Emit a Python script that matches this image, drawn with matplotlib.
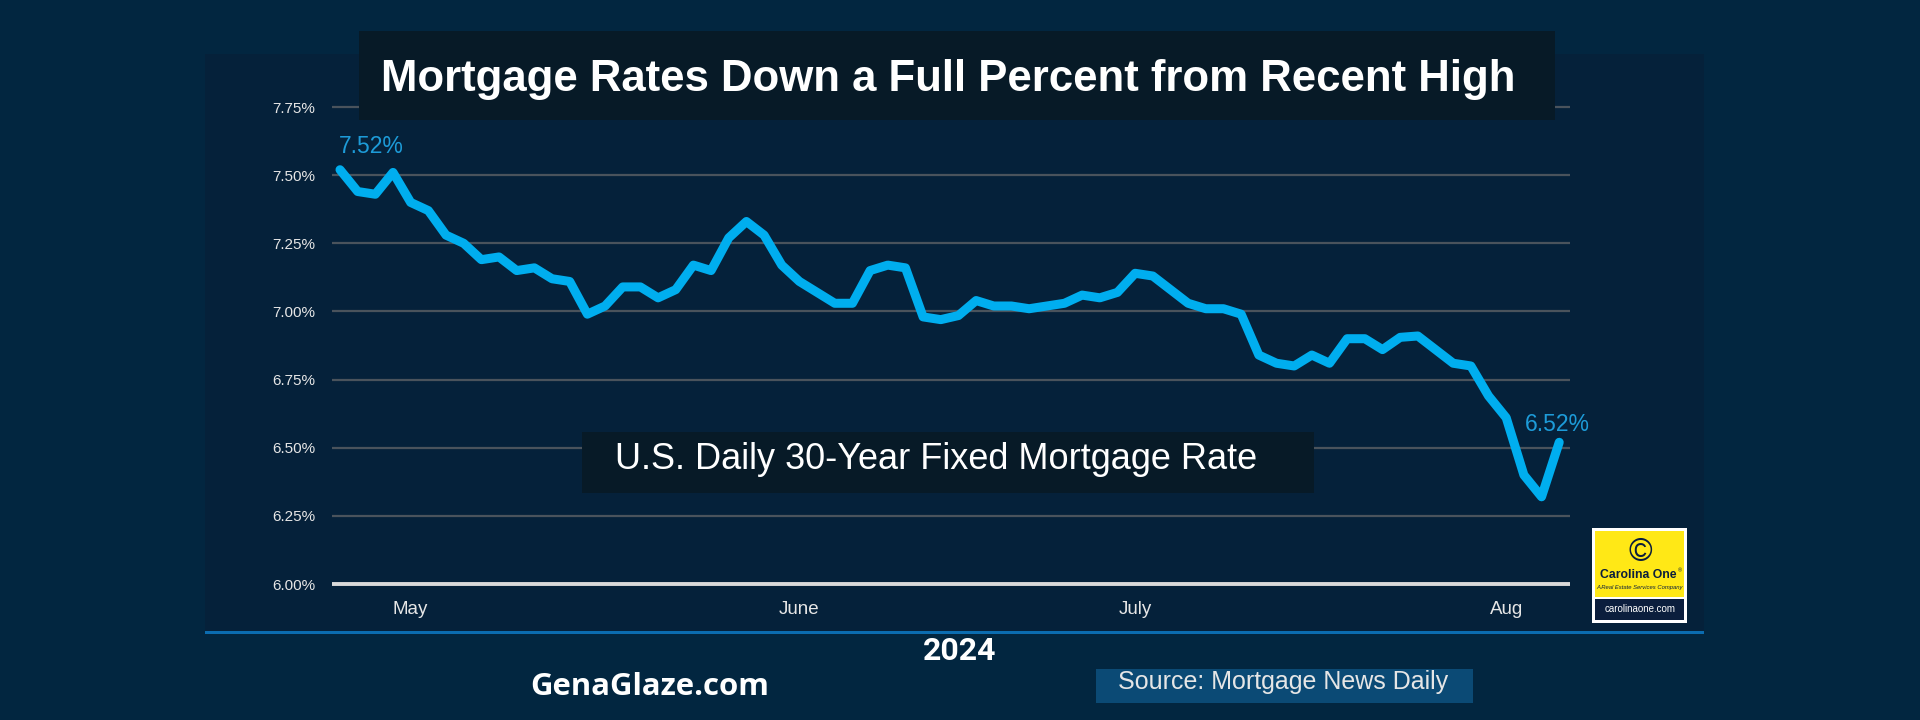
import matplotlib
matplotlib.use("Agg")
import matplotlib.pyplot as plt
from matplotlib.patches import Rectangle

# ---------------- data ----------------
rates = [7.52, 7.44, 7.43, 7.51, 7.40, 7.37, 7.28, 7.25, 7.19, 7.20,
         7.15, 7.16, 7.12, 7.11, 6.99, 7.02, 7.09, 7.09, 7.05, 7.08,
         7.17, 7.15, 7.27, 7.33, 7.28, 7.17, 7.11, 7.07, 7.03, 7.03,
         7.15, 7.17, 7.16, 6.98, 6.97, 6.985, 7.04, 7.02, 7.02, 7.01,
         7.02, 7.03, 7.06, 7.05, 7.07, 7.14, 7.13, 7.08, 7.03, 7.01,
         7.01, 6.99, 6.84, 6.81, 6.80, 6.84, 6.81, 6.90, 6.90, 6.86,
         6.905, 6.91, 6.86, 6.81, 6.80, 6.69, 6.61, 6.40, 6.32, 6.52]
y_ticks = [6.00, 6.25, 6.50, 6.75, 7.00, 7.25, 7.50, 7.75]
y_tick_labels = ["6.00%", "6.25%", "6.50%", "6.75%", "7.00%", "7.25%", "7.50%", "7.75%"]
month_labels = ["May", "June", "July", "Aug"]
month_tick_idx = [4, 26, 45, 66]
title = "Mortgage Rates Down a Full Percent from Recent High"
subtitle = "U.S. Daily 30-Year Fixed Mortgage Rate"
year_label = "2024"
site_label = "GenaGlaze.com"
source_label = "Source: Mortgage News Daily"

# ---------------- style ----------------
BG = "#022640"
PANEL = "#05213a"
BOX = "#071a27"
LINE = "#00aeef"
ANNOT = "#1d9bd8"
NAVY = "#0b1e3d"

W, H = 1920, 720
fig = plt.figure(figsize=(W / 100, H / 100), dpi=100, facecolor=BG)


def fx(px):
    return px / W


def fy(py):
    return 1 - py / H


def rect(x0, y0, x1, y1, color, z):
    r = Rectangle((fx(x0), fy(y1)), (x1 - x0) / W, (y1 - y0) / H,
                  transform=fig.transFigure, facecolor=color,
                  edgecolor="none", zorder=z)
    fig.add_artist(r)


# background panel and rule
rect(205, 54, 1704, 632, PANEL, -2)
rect(205, 630.5, 1704, 633.5, "#0b6cb0", -1)

# ---------------- axes ----------------
ax_left, ax_right = 332, 1570
ax_top, ax_bottom = 93.4, 592.2
ax = fig.add_axes([fx(ax_left), fy(ax_bottom), (ax_right - ax_left) / W,
                   (ax_bottom - ax_top) / H])
ax.set_facecolor("none")
ax.set_xlim(-0.453, 69.61)
ax.set_ylim(5.97, 7.80)
for s in ax.spines.values():
    s.set_visible(False)

for v in y_ticks[1:]:
    ax.axhline(v, color="#4a535c", lw=1.6, zorder=1)
ax.axhline(y_ticks[0], color="#dadada", lw=2.8, zorder=1)

x = list(range(len(rates)))
ax.plot(x, rates, color=LINE, lw=6.5, solid_joinstyle="round",
        solid_capstyle="round", zorder=3)

ax.set_yticks(y_ticks, y_tick_labels)
ax.set_xticks(month_tick_idx, month_labels)
ax.tick_params(axis="y", length=0, pad=12, labelsize=11, labelcolor="#e6e6e6")
ax.tick_params(axis="x", length=0, pad=6, labelsize=13.5, labelcolor="#e6e6e6")
for lab in ax.get_xticklabels() + ax.get_yticklabels():
    lab.set_family("Liberation Sans")

ax.annotate(f"{rates[0]:.2f}%", (x[0], rates[0]), xytext=(-1, 17),
            textcoords="offset points", ha="left", va="center",
            color=ANNOT, fontsize=16.5, family="Liberation Sans",
            annotation_clip=False)
ax.annotate(f"{rates[-1]:.2f}%", (x[-1], rates[-1]), xytext=(-1.5, 13),
            textcoords="offset points", ha="center", va="center",
            color=ANNOT, fontsize=16.5, family="Liberation Sans",
            annotation_clip=False)

# ---------------- title & labels ----------------
rect(359, 31, 1555, 120, BOX, 2)
fig.text(fx(381), fy(90.7), title, ha="left", va="baseline", color="white",
         fontsize=31.5, weight="bold", family="Liberation Sans", zorder=3)

rect(582, 432, 1314, 493, BOX, 2)
fig.text(fx(615), fy(469.3), subtitle, ha="left", va="baseline", color="white",
         fontsize=26, family="Liberation Sans", zorder=3)

fig.text(fx(960), fy(660), year_label, ha="center", va="baseline",
         color="white", fontsize=23, weight="bold", family="Roboto", zorder=3)
fig.text(fx(650), fy(695), site_label, ha="center", va="baseline",
         color="white", fontsize=22.4, weight="bold", family="Open Sans", zorder=3)

rect(1096, 669, 1473, 703, "#0b4a75", 2)
fig.text(fx(1118), fy(689), source_label, ha="left", va="baseline",
         color="#e6e6e6", fontsize=18, family="Liberation Sans", zorder=3)

# ---------------- logo ----------------
rect(1592, 528, 1687, 623, "white", 2)
rect(1595, 531, 1684, 597, "#ffe816", 3)
rect(1595, 599, 1684, 620, NAVY, 3)
fig.text(fx(1640), fy(553), "\u00a9", ha="center", va="center", color=NAVY,
         fontsize=23, family="Liberation Sans", zorder=4)
fig.text(fx(1638), fy(578), "Carolina One", ha="center", va="baseline",
         color=NAVY, fontsize=8.8, weight="bold", family="Liberation Sans", zorder=4)
fig.text(fx(1677.5), fy(572), "\u00ae", ha="left", va="baseline",
         color=NAVY, fontsize=4, family="Liberation Sans", zorder=4)
fig.text(fx(1640), fy(587), "A Real Estate Services Company", ha="center",
         va="center", color=NAVY, fontsize=4.2, style="italic",
         family="Liberation Sans", zorder=4)
fig.text(fx(1640), fy(609.5), "carolinaone.com", ha="center", va="center",
         color="white", fontsize=7, family="Liberation Sans", zorder=4)

fig.savefig("out.png", dpi=100, facecolor=BG)
